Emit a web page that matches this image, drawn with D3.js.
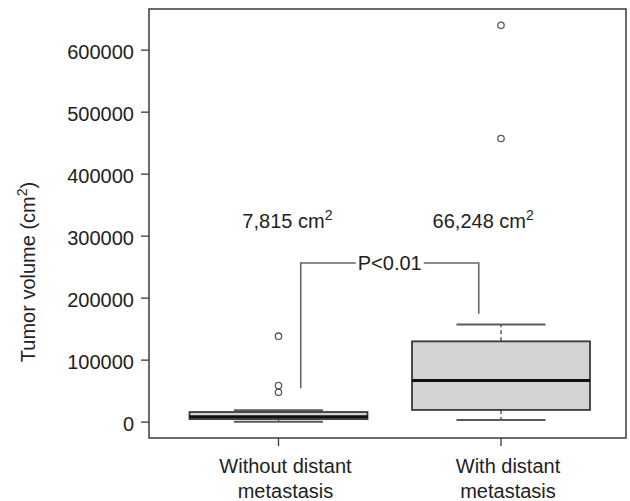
<!DOCTYPE html>
<html>
<head>
<meta charset="utf-8">
<script src="https://cdn.jsdelivr.net/npm/d3@7"></script>
<style>
  html, body { margin: 0; padding: 0; background: #fff; }
  svg { display: block; font-family: "Liberation Sans", Arial, Helvetica, sans-serif; }
</style>
</head>
<body>
<svg id="chart" width="630" height="501"></svg>
<script>
// Group labels (two lines each) and box-plot statistics
const groupLines = [["Without distant", "metastasis"], ["With distant", "metastasis"]];
const groupPos = [1, 2];
const medians = [7815, 66248];
const q1 = [4200, 18900];
const q3 = [15500, 129500];
const whiskerLow = [0, 2700];
const whiskerHigh = [18500, 156500];
const outliers = [[137800, 58200, 47300], [639300, 456700]];

// Axis
const yTicks = [0, 100000, 200000, 300000, 400000, 500000, 600000];
const yTitle = "Tumor volume (cm";

// Annotations
const medianLabels = ["7,815 cm", "66,248 cm"];
const medianLabelX = [1.04, 1.92];
const medianLabelY = 311800;
const pLabel = "P<0.01";
const bracketX = [1.1, 1.9];
const bracketTop = 256000;
const bracketBottoms = [54000, 174000];

const svg = d3.select("#chart");
const frame = { left: 149, right: 626, top: 9, bottom: 438 };

const x = d3.scaleLinear().domain([1, 2]).range([278.5, 501]);
const y = d3.scaleLinear().domain([-25600, 665600]).range([437.5, 9]);
const unit = x(2) - x(1);
const boxHalf = 0.4 * unit;
const capHalf = 0.2 * unit;

const dark = "#3a3a3a";
const grey = "#5a5a5a";

// Plot frame
svg.append("rect")
  .attr("x", frame.left).attr("y", frame.top)
  .attr("width", frame.right - frame.left).attr("height", frame.bottom - frame.top)
  .attr("fill", "none").attr("stroke", dark).attr("stroke-width", 1.5);

// Y axis
const yAxis = d3.axisLeft(y).tickValues(yTicks).tickSize(8).tickPadding(7)
  .tickFormat(d3.format("d"));
const yg = svg.append("g").attr("transform", `translate(${frame.left},0)`).call(yAxis);
yg.select(".domain").remove();
yg.selectAll(".tick line").attr("stroke", dark).attr("stroke-width", 1.3);
yg.selectAll(".tick text").attr("font-size", 20).attr("fill", "#222")
  .attr("font-family", "Liberation Sans, Arial, sans-serif").attr("dy", "0.42em");

// X axis ticks and two-line labels
const xg = svg.append("g");
groupPos.forEach((g, i) => {
  xg.append("line")
    .attr("x1", x(g)).attr("x2", x(g))
    .attr("y1", frame.bottom).attr("y2", frame.bottom + 8)
    .attr("stroke", dark).attr("stroke-width", 1.3);
  const t = xg.append("text")
    .attr("text-anchor", "middle").attr("font-size", 20).attr("fill", "#222");
  groupLines[i].forEach((line, j) => {
    t.append("tspan").attr("x", x(g) + 7).attr("y", 473 + j * 25).text(line);
  });
});

// Y axis title
const yt = svg.append("text")
  .attr("transform", "translate(35,272) rotate(-90)")
  .attr("text-anchor", "middle").attr("font-size", 20).attr("fill", "#222");
yt.append("tspan").text(yTitle);
yt.append("tspan").attr("font-size", 14).attr("dy", -8).text("2");
yt.append("tspan").attr("dy", 8).text(")");

// Boxes
const boxes = svg.append("g");
groupPos.forEach((g, i) => {
  const cx = x(g);
  // dashed whiskers
  boxes.append("line")
    .attr("x1", cx).attr("x2", cx).attr("y1", y(q3[i])).attr("y2", y(whiskerHigh[i]))
    .attr("stroke", grey).attr("stroke-width", 1.5).attr("stroke-dasharray", "4,3");
  boxes.append("line")
    .attr("x1", cx).attr("x2", cx).attr("y1", y(q1[i])).attr("y2", y(whiskerLow[i]))
    .attr("stroke", grey).attr("stroke-width", 1.5).attr("stroke-dasharray", "4,3");
  // caps
  [whiskerHigh[i], whiskerLow[i]].forEach(v => {
    boxes.append("line")
      .attr("x1", cx - capHalf).attr("x2", cx + capHalf)
      .attr("y1", y(v)).attr("y2", y(v))
      .attr("stroke", grey).attr("stroke-width", 2);
  });
  // box
  boxes.append("rect")
    .attr("x", cx - boxHalf).attr("width", 2 * boxHalf)
    .attr("y", y(q3[i])).attr("height", y(q1[i]) - y(q3[i]))
    .attr("fill", "#d3d3d3").attr("stroke", dark).attr("stroke-width", 1.8);
  // median
  boxes.append("line")
    .attr("x1", cx - boxHalf).attr("x2", cx + boxHalf)
    .attr("y1", y(medians[i])).attr("y2", y(medians[i]))
    .attr("stroke", "#111").attr("stroke-width", 3);
  // outliers
  boxes.selectAll(null).data(outliers[i]).enter().append("circle")
    .attr("cx", cx).attr("cy", d => y(d)).attr("r", 3.2)
    .attr("fill", "none").attr("stroke", grey).attr("stroke-width", 1.3);
});

// Median annotations
medianLabels.forEach((lab, i) => {
  const t = svg.append("text")
    .attr("x", x(medianLabelX[i])).attr("y", y(medianLabelY))
    .attr("text-anchor", "middle").attr("font-size", 20).attr("fill", "#222");
  t.append("tspan").text(lab);
  t.append("tspan").attr("font-size", 14).attr("dy", -8).text("2");
});

// Significance bracket
const bx1 = x(bracketX[0]), bx2 = x(bracketX[1]), by = y(bracketTop);
const px = (bx1 + bx2) / 2;
const pText = svg.append("text")
  .attr("x", px).attr("y", by + 7.5)
  .attr("text-anchor", "middle").attr("font-size", 20).attr("fill", "#222")
  .text(pLabel);
const tw = pText.node().getComputedTextLength();
const gap = 2;
const br = svg.append("g").attr("fill", "none").attr("stroke", "#666").attr("stroke-width", 1.6);
br.append("path").attr("d",
  `M${bx1},${y(bracketBottoms[0])}V${by}H${px - tw / 2 - gap}`);
br.append("path").attr("d",
  `M${px + tw / 2 + gap},${by}H${bx2}V${y(bracketBottoms[1])}`);
</script>
</body>
</html>
